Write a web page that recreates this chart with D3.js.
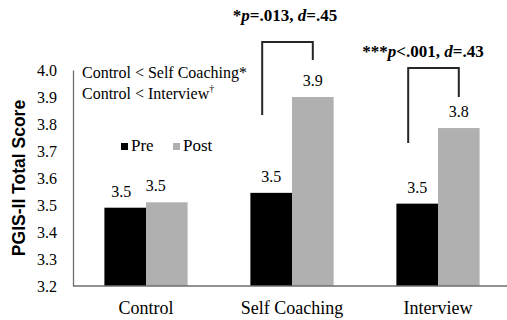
<!DOCTYPE html>
<html>
<head>
<meta charset="utf-8">
<script src="https://cdn.jsdelivr.net/npm/d3@7"></script>
<style>
  html, body { margin: 0; padding: 0; background: #fff; }
  svg { display: block; }
  .serif { font-family: "Liberation Serif", "Times New Roman", serif; fill: #000; }
</style>
</head>
<body>
<svg id="chart" width="507" height="320"></svg>
<script>
// PGIS-II total score by condition, before and after
const categories = ["Control", "Self Coaching", "Interview"];
const seriesNames = ["Pre", "Post"];
const preValues  = [3.49, 3.545, 3.505];
const postValues = [3.51, 3.90, 3.785];
const valueLabels = [["3.5", "3.5"], ["3.5", "3.9"], ["3.5", "3.8"]];
const yTicks = [3.2, 3.3, 3.4, 3.5, 3.6, 3.7, 3.8, 3.9, 4.0];
const yTitle = "PGIS-II Total Score";
const contrastNotes = ["Control < Self Coaching*", "Control < Interview"];
const effectNotes = [
  { group: "Self Coaching", stars: "*",   p: "=.013", d: "=.45" },
  { group: "Interview",     stars: "***", p: "<.001", d: "=.43" }
];

const colors = { Pre: "#000000", Post: "#b0b0b0" };

const svg = d3.select("#chart");
const plotLeft = 73, plotRight = 511, plotTop = 70, plotBottom = 286;

const x = d3.scaleBand().domain(categories).range([plotLeft, plotRight])
  .paddingInner(0.43).paddingOuter(0.215);
const xs = d3.scaleBand().domain(seriesNames).range([0, x.bandwidth()]);
const y = d3.scaleLinear().domain([3.2, 4.0]).range([plotBottom, plotTop]);

const rows = categories.map((c, i) => ({
  cat: c,
  vals: [
    { s: "Pre",  v: preValues[i],  label: valueLabels[i][0] },
    { s: "Post", v: postValues[i], label: valueLabels[i][1] }
  ]
}));

// bars
const groups = svg.append("g").selectAll("g").data(rows).join("g")
  .attr("transform", d => `translate(${x(d.cat)},0)`);
groups.selectAll("rect").data(d => d.vals).join("rect")
  .attr("x", d => xs(d.s))
  .attr("y", d => y(d.v))
  .attr("width", xs.bandwidth())
  .attr("height", d => y(3.2) - y(d.v))
  .attr("fill", d => colors[d.s]);

// value labels (the two Control labels are nudged left to keep them apart)
const nudge = { "Control": { Pre: -4, Post: -11 } };
groups.selectAll("text").data(d => d.vals.map(v => ({ ...v, cat: d.cat }))).join("text")
  .attr("class", "serif")
  .attr("font-size", 16)
  .attr("text-anchor", "middle")
  .attr("x", d => xs(d.s) + xs.bandwidth() / 2 + ((nudge[d.cat] || {})[d.s] || 0))
  .attr("y", d => y(d.v) - 11)
  .text(d => d.label);

// axes
const yAxis = svg.append("g").attr("transform", `translate(${plotLeft},0)`)
  .call(d3.axisLeft(y).tickValues(yTicks).tickFormat(d3.format(".1f")).tickSize(0).tickPadding(16));
yAxis.select(".domain").attr("stroke", "#6e6e6e").attr("stroke-width", 1.3);
yAxis.selectAll("text").attr("class", "serif").attr("font-size", 16).attr("fill", "#000");

const xAxis = svg.append("g").attr("transform", `translate(0,${plotBottom})`)
  .call(d3.axisBottom(x).tickSize(0).tickPadding(15));
xAxis.select(".domain").attr("stroke", "#6e6e6e").attr("stroke-width", 1.3)
  .attr("d", `M${plotLeft},0H507`);
xAxis.selectAll("text").attr("class", "serif").attr("font-size", 18).attr("fill", "#000");

// y axis title
svg.append("text")
  .attr("transform", `translate(25,${(plotTop + plotBottom) / 2}) rotate(-90)`)
  .attr("text-anchor", "middle")
  .attr("font-family", "Liberation Sans, Arial, sans-serif")
  .attr("font-weight", "bold")
  .attr("font-size", 17.5)
  .text(yTitle);

// contrast notes
const notes = svg.append("g").attr("class", "serif").attr("font-size", 16);
notes.append("text").attr("x", 82).attr("y", 78).text(contrastNotes[0]);
const n2 = notes.append("text").attr("x", 82).attr("y", 99).text(contrastNotes[1]);
n2.append("tspan").attr("font-size", 10).attr("dy", -7).text("\u2020");

// legend
const legend = svg.append("g").attr("transform", "translate(121,143)");
seriesNames.forEach((s, i) => {
  const g = legend.append("g").attr("transform", `translate(${i * 52},0)`);
  g.append("rect").attr("width", 7).attr("height", 7).attr("fill", colors[s]);
  g.append("text").attr("class", "serif").attr("font-size", 17)
    .attr("x", 10).attr("y", 8).text(s);
});

// significance brackets above the post bars
const bracketLayout = {
  "Self Coaching": { top: 4.104, leftEnd: 3.833, rightEnd: 4.037, textY: 21, textX: 285 },
  "Interview":     { top: 4.007, leftEnd: 3.730, rightEnd: 3.900, textY: 57, textX: 423 }
};
effectNotes.forEach(n => {
  const L = bracketLayout[n.group];
  const xl = x(n.group) + xs("Pre") + xs.bandwidth() / 2 - 9;
  const xr = x(n.group) + xs("Post") + xs.bandwidth() / 2;
  svg.append("path")
    .attr("d", `M${xl},${y(L.leftEnd)}V${y(L.top)}H${xr}V${y(L.rightEnd)}`)
    .attr("fill", "none").attr("stroke", "#262626").attr("stroke-width", 2);
  const t = svg.append("text").attr("class", "serif")
    .attr("font-size", 17).attr("font-weight", "bold")
    .attr("text-anchor", "middle")
    .attr("x", L.textX).attr("y", L.textY);
  t.append("tspan").text(n.stars);
  t.append("tspan").attr("font-style", "italic").text("p");
  t.append("tspan").text(n.p + ", ");
  t.append("tspan").attr("font-style", "italic").text("d");
  t.append("tspan").text(n.d);
});
</script>
</body>
</html>
